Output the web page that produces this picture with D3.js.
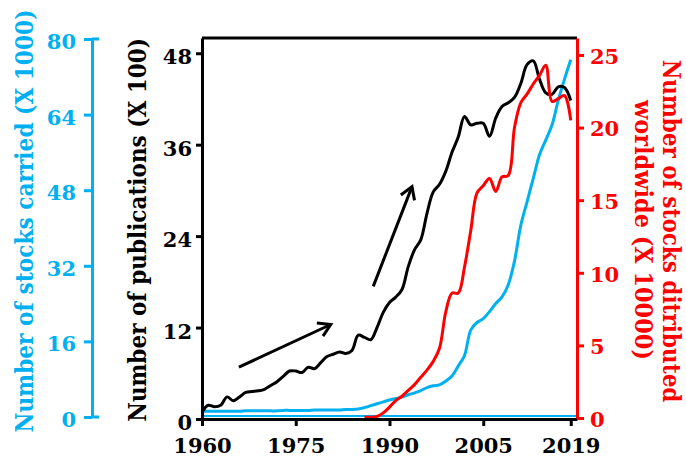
<!DOCTYPE html>
<html lang="en">
<head>
  <meta charset="UTF-8" />
  <title>Stocks and publications</title>
  <script src="https://d3js.org/d3.v7.min.js"></script>
  <style>
    body { margin: 0; background: #fff; }
    svg { display: block; font-family: 'DejaVu Serif', serif; font-weight: bold; }
    .axis path, .axis line { stroke-width: 3px; }
    .axis text { font-family: 'DejaVu Serif', serif; font-weight: bold; }
  </style>
</head>
<body>
<svg id="chart" width="686" height="464"></svg>
<script>
  // years 1960..2019
  const years = d3.range(1960, 2020);

  // publications (x 100), black
  const publications = [
    0.9, 1.8, 1.6, 1.8, 2.9, 2.4, 2.9, 3.5, 3.6, 3.7,
    3.9, 4.4, 4.9, 5.6, 6.3, 6.3, 6.1, 6.8, 6.6, 7.4,
    8.2, 8.5, 8.8, 8.6, 9.0, 11.0, 10.7, 10.4, 12.0, 14.0,
    15.3, 16.0, 17.0, 20.0, 22.2, 23.5, 27.0, 29.8, 30.8, 32.5,
    35.0, 37.0, 39.7, 38.6, 38.8, 38.8, 37.1, 39.5, 41.0, 41.5,
    42.2, 44.0, 46.5, 47.0, 44.6, 42.8, 42.6, 43.6, 43.5, 41.8
  ];

  // stocks carried (x 1000), blue
  const carried = [
    1.2, 1.2, 1.2, 1.2, 1.2, 1.2, 1.2, 1.3, 1.3, 1.3,
    1.3, 1.3, 1.3, 1.4, 1.4, 1.4, 1.4, 1.4, 1.5, 1.5,
    1.5, 1.5, 1.5, 1.6, 1.6, 1.7, 2.0, 2.4, 2.8, 3.2,
    3.6, 3.9, 4.2, 4.7, 5.1, 5.6, 6.2, 6.6, 6.8, 7.6,
    8.7, 10.8, 13.0, 18.4, 20.0, 20.8, 22.3, 24.0, 25.4, 28.0,
    33.0, 40.5, 45.5, 50.5, 55.5, 58.6, 61.8, 67.0, 71.5, 75.6
  ];

  // stocks distributed worldwide (x 10000), red, from 1986
  const redYears = d3.range(1986, 2020);
  const distributed = [
    0.05, 0.05, 0.1, 0.35, 0.75, 1.2, 1.5, 1.9, 2.3, 2.8,
    3.3, 3.9, 4.8, 7.3, 8.6, 8.6, 10.4, 12.9, 15.5, 16.0,
    16.5, 15.6, 16.6, 16.7, 20.0, 21.7, 22.3, 23.0, 23.6, 24.3,
    21.8, 22.0, 22.2, 20.5
  ];

  const xTicks = [1960, 1975, 1990, 2005, 2019];
  const pubTicks = [0, 12, 24, 36, 48];
  const blueTicks = [0, 16, 32, 48, 64, 80];
  const redTicks = [0, 5, 10, 15, 20, 25];

  // arrows in data units [year, publications]
  const arrows = [
    [[1965.9, 6.8], [1980.6, 12.4]],
    [[1987.4, 17.4], [1993.6, 30.5]]
  ];

  const blue = "#00b0f0", red = "#ff0000";

  const svg = d3.select("#chart");

  const x = d3.scaleLinear().domain([1960, 2020]).range([202, 577]);
  const yPub = d3.scaleLinear().domain([0, 50]).range([419, 38]);
  const yRed = d3.scaleLinear().domain([0, 26.17]).range([418, 38]);
  const yBlue = d3.scaleLinear().domain([0, 80]).range([417, 39]);

  const curve = d3.curveCatmullRom.alpha(0.5);

  // frame top
  svg.append("line")
    .attr("x1", x(1960)).attr("x2", x(2020))
    .attr("y1", yPub.range()[1]).attr("y2", yPub.range()[1])
    .attr("stroke", "#000").attr("stroke-width", 3);

  // thin blue baseline
  svg.append("line")
    .attr("x1", x(1960)).attr("x2", x(2020))
    .attr("y1", yBlue(0) - 1).attr("y2", yBlue(0) - 1)
    .attr("stroke", blue).attr("stroke-width", 2);

  // series
  svg.append("path")
    .datum(years.map((d, i) => [d, carried[i]]))
    .attr("fill", "none").attr("stroke", blue).attr("stroke-width", 3)
    .attr("d", d3.line().x(d => x(d[0])).y(d => yBlue(d[1])).curve(curve));

  svg.append("path")
    .datum(years.map((d, i) => [d, publications[i]]))
    .attr("fill", "none").attr("stroke", "#000").attr("stroke-width", 3)
    .attr("d", d3.line().x(d => x(d[0])).y(d => yPub(d[1])).curve(curve));

  svg.append("path")
    .datum(redYears.map((d, i) => [d, distributed[i]]))
    .attr("fill", "none").attr("stroke", red).attr("stroke-width", 3)
    .attr("d", d3.line().x(d => x(d[0])).y(d => yRed(d[1])).curve(curve));

  // arrows
  arrows.forEach(a => {
    const x1 = x(a[0][0]), y1 = yPub(a[0][1]);
    const x2 = x(a[1][0]), y2 = yPub(a[1][1]);
    const ang = Math.atan2(y2 - y1, x2 - x1);
    const L = 14, spread = 0.55;
    svg.append("line")
      .attr("x1", x1).attr("y1", y1).attr("x2", x2).attr("y2", y2)
      .attr("stroke", "#000").attr("stroke-width", 3);
    svg.append("path")
      .attr("d", `M${x2 - L * Math.cos(ang - spread)},${y2 - L * Math.sin(ang - spread)}L${x2},${y2}L${x2 - L * Math.cos(ang + spread)},${y2 - L * Math.sin(ang + spread)}`)
      .attr("fill", "none").attr("stroke", "#000").attr("stroke-width", 3);
  });

  // x axis
  const gx = svg.append("g").attr("class", "axis")
    .attr("transform", `translate(0,${yPub(0)})`)
    .call(d3.axisBottom(x).tickValues(xTicks).tickFormat(d3.format("d")).tickSize(7).tickSizeOuter(0).tickPadding(12));
  gx.selectAll("text").attr("font-size", 21).attr("fill", "#000");

  // left black axis (publications)
  const gp = svg.append("g").attr("class", "axis")
    .attr("transform", `translate(${x(1960)},0)`)
    .call(d3.axisLeft(yPub).tickValues(pubTicks).tickSize(6).tickSizeOuter(0).tickPadding(4));
  gp.selectAll("text").attr("font-size", 21).attr("fill", "#000").attr("dy", "0.5em");

  // red right axis
  const gr = svg.append("g").attr("class", "axis")
    .attr("transform", `translate(${x(2020)},0)`)
    .call(d3.axisRight(yRed).tickValues(redTicks).tickSize(7).tickSizeOuter(0).tickPadding(6));
  gr.select(".domain").attr("stroke", red);
  gr.selectAll("line").attr("stroke", red);
  gr.selectAll("text").attr("font-size", 21).attr("fill", red).attr("dy", "0.4em");

  // blue outer axis
  const gb = svg.append("g").attr("class", "axis")
    .attr("transform", "translate(92,0)")
    .call(d3.axisLeft(yBlue).tickValues(blueTicks).tickSize(8).tickSizeOuter(0).tickPadding(8));
  gb.select(".domain").attr("stroke", blue);
  gb.selectAll("line").attr("stroke", blue);
  gb.selectAll("text").attr("font-size", 21).attr("fill", blue).attr("dy", "0.45em");
  [0, 80].forEach(v => {
    gb.append("line").attr("x1", 0).attr("x2", 7)
      .attr("y1", yBlue(v)).attr("y2", yBlue(v))
      .attr("stroke", blue).attr("stroke-width", 3);
  });

  // axis titles, squeezed along their length like the original
  function title(tx, ty, rot, len, color, str) {
    const t = svg.append("text")
      .attr("text-anchor", "middle").attr("font-size", 24).attr("fill", color)
      .text(str);
    const k = len / t.node().getComputedTextLength();
    t.attr("transform", `translate(${tx},${ty}) rotate(${rot}) scale(${k},1)`);
  }
  title(33, 221, -90, 423, blue, "Number of stocks carried (X 1000)");
  title(146, 230, -90, 384, "#000", "Number of publications (X 100)");
  title(663, 231, 90, 343, red, "Number of stocks ditributed");
  title(635, 230, 90, 260, red, "worldwide (X 10000)");
</script>
</body>
</html>
